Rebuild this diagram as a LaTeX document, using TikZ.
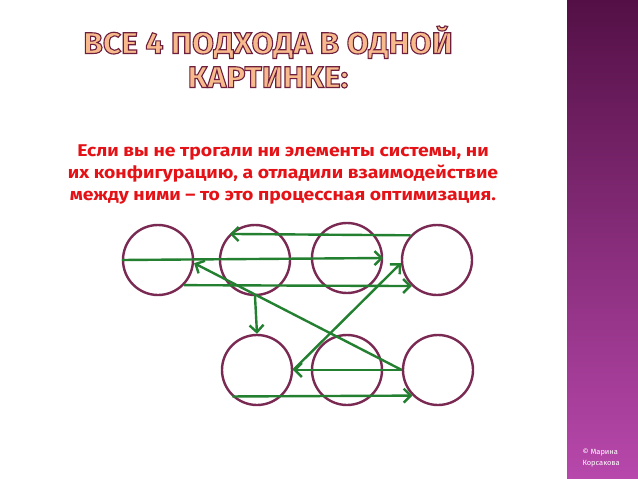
\documentclass[tikz,border=0pt]{standalone}
\usepackage{fontspec}
\setmainfont{Fira Sans}
\newfontfamily\titlefont[FakeStretch=1.06]{Fira Sans}
\newfontfamily\remarkfont[FakeStretch=1.14]{Fira Sans}
\usepackage{tikz}
\usetikzlibrary{arrows.meta}
\definecolor{ringred}{RGB}{122,42,82}
\definecolor{linkgreen}{RGB}{34,128,48}
\definecolor{textred}{RGB}{228,18,22}
\definecolor{titlefill}{RGB}{246,186,140}
\definecolor{barTop}{RGB}{84,16,70}
\definecolor{barBottom}{RGB}{184,72,172}
% outlined letters: fill and stroke
\newcommand\outlined{\special{pdf:code 2 Tr 1.1 w 0.43 0.12 0.24 RG}}

\begin{document}
\begin{tikzpicture}[x=1pt, y=-1pt,
    ring/.style={circle, draw=ringred, line width=2.4pt,
                 minimum size=70pt, inner sep=0pt},
    link/.style={draw=linkgreen, line width=2.4pt,
                 -{Straight Barb[length=7pt, width=14pt]}}]
    \useasboundingbox (0,0) rectangle (638,479);
    \fill[white] (0,0) rectangle (638,479);
    \shade[top color=barTop, bottom color=barBottom] (567,0) rectangle (638,479);

    % title and remark
    \node (title) at (268,57) [align=center,
          font=\titlefont\bfseries\fontsize{30}{34}\selectfont] {
      \textcolor{titlefill}{\outlined ВСЕ 4 ПОДХОДА В ОДНОЙ}\\
      \textcolor{titlefill}{\outlined КАРТИНКЕ:}
    };
    \node (remark) at (283,174) [align=center, text=textred,
          font=\remarkfont\bfseries\fontsize{17}{22}\selectfont] {
      Если вы не трогали ни элементы системы, ни\\
      их конфигурацию, а отладили взаимодействие\\
      между ними – то это процессная оптимизация.
    };
    \node (author) at (579,458) [anchor=west, align=left, text=white,
          font=\fontsize{7.5}{10.5}\selectfont] {
      © Марина\\Корсакова
    };

    % elements
    \node[ring] (c1) at (158,260) {};
    \node[ring] (c2) at (255,260) {};
    \node[ring] (c3) at (347,258) {};
    \node[ring] (c4) at (437,260) {};
    \node[ring] (c5) at (257,370) {};
    \node[ring] (c6) at (347,370) {};
    \node[ring] (c7) at (438,370) {};

    % interactions
    \draw[link] (c4.137) -- (c2.134);
    \draw[link] (c1.west) -- (c3.east);
    \draw[link] (c1.-44) -- (c4.-134);
    \draw[link] (c7.west) -- (c1.-5);
    \draw[link] (c2.south) -- (c5.north);
    \draw[link] (c7.west) -- (c5.east);
    \draw[link] (c5.east) -- (c4.-175);
    \draw[link] (c5.-133) -- (c7.-135);
\end{tikzpicture}
\end{document}
